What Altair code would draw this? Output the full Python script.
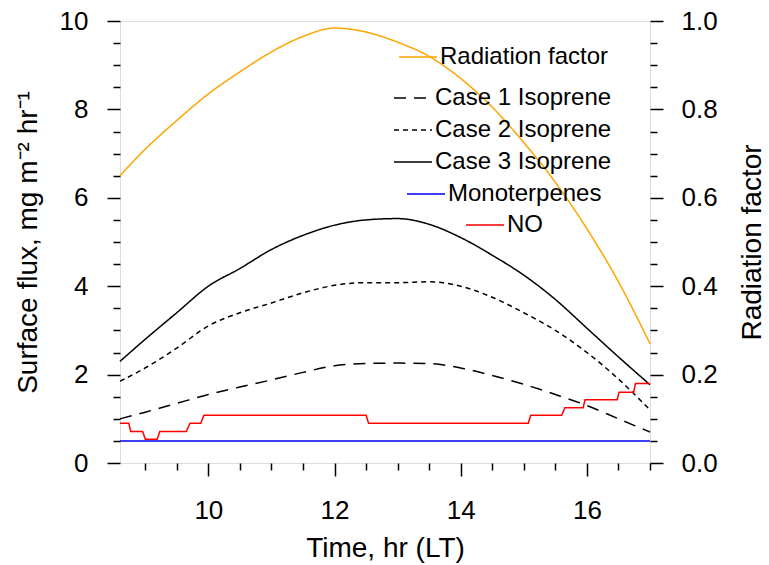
import altair as alt
import pandas as pd

# ---------------- data ----------------
hours = [8.6, 9.0, 9.5, 10.0, 10.5, 11.0, 11.5, 12.0, 12.5, 13.0, 13.5,
         14.0, 14.5, 15.0, 15.5, 16.0, 16.5, 17.0]
radiation = [0.65, 0.71, 0.775, 0.835, 0.885, 0.93, 0.965, 0.984, 0.975, 0.952,
             0.92, 0.87, 0.805, 0.725, 0.635, 0.53, 0.41, 0.27]
case1 = [1.0, 1.15, 1.35, 1.55, 1.72, 1.88, 2.05, 2.2, 2.25, 2.26, 2.25,
         2.15, 1.98, 1.78, 1.55, 1.3, 1.0, 0.7]
case2 = [1.85, 2.15, 2.6, 3.1, 3.4, 3.62, 3.85, 4.02, 4.08, 4.08, 4.1,
         4.0, 3.75, 3.4, 3.0, 2.5, 1.9, 1.2]
case3 = [2.3, 2.8, 3.4, 4.0, 4.4, 4.83, 5.15, 5.38, 5.5, 5.53, 5.4,
         5.1, 4.7, 4.25, 3.7, 3.05, 2.4, 1.77]
mono_hours = [8.6, 17.0]
mono = [0.5, 0.5]
no_hours = [8.6, 8.74, 8.77, 8.96, 9.0, 9.19, 9.23, 9.65, 9.71, 9.88, 9.93,
            12.5, 12.54, 15.07, 15.11, 15.6, 15.65, 15.94, 15.97, 16.48,
            16.51, 16.74, 16.77, 17.0]
no_vals = [0.9, 0.9, 0.71, 0.71, 0.54, 0.54, 0.71, 0.71, 0.9, 0.9, 1.08,
           1.08, 0.9, 0.9, 1.08, 1.08, 1.25, 1.25, 1.43, 1.43, 1.6, 1.6,
           1.8, 1.8]

case_names = ["Case 1 Isoprene", "Case 2 Isoprene", "Case 3 Isoprene"]
case_dashes = [[12, 8], [5, 4], [1, 0]]

x_major = [10, 12, 14, 16]
x_minor = [9.0, 9.5, 10.5, 11.0, 11.5, 12.5, 13.0, 13.5, 14.5, 15.0, 15.5,
           16.5, 17.0]
yl_major = [0, 2, 4, 6, 8, 10]
yl_minor = [0.5, 1, 1.5, 2.5, 3, 3.5, 4.5, 5, 5.5, 6.5, 7, 7.5, 8.5, 9, 9.5]
yr_major = [0.0, 0.2, 0.4, 0.6, 0.8, 1.0]
yr_minor = [0.05, 0.1, 0.15, 0.25, 0.3, 0.35, 0.45, 0.5, 0.55, 0.65, 0.7,
            0.75, 0.85, 0.9, 0.95]

# ---------------- tables ----------------
rows = []
for name, vals in zip(case_names, [case1, case2, case3]):
    for h, v in zip(hours, vals):
        rows.append({"hour": h, "value": v, "series": name})
case_df = pd.DataFrame(rows)
mono_df = pd.DataFrame({"hour": mono_hours, "value": mono,
                        "series": "Monoterpenes"})
no_df = pd.DataFrame({"hour": no_hours, "value": no_vals, "series": "NO"})
rad_df = pd.DataFrame({"hour": hours, "value": radiation,
                       "series": "Radiation factor"})

FONT = "Liberation Sans"
xscale = alt.Scale(domain=[8.6, 17], nice=False, zero=False)
lscale = alt.Scale(domain=[0, 10], nice=False)
rscale = alt.Scale(domain=[0, 1], nice=False)


def legend(lx, ly, rowpad=0):
    return alt.Legend(
        title=None, orient="none", legendX=lx, legendY=ly,
        symbolType="stroke", symbolSize=1444, symbolStrokeWidth=1.5,
        labelFontSize=24, labelFont=FONT, labelColor="black",
        labelOffset=2, rowPadding=rowpad, padding=0, labelLimit=400,
    )


def enc(domain, colors, dashes, lg):
    return dict(
        color=alt.Color("series:N", scale=alt.Scale(domain=domain, range=colors),
                        sort=domain, legend=lg),
        strokeDash=alt.StrokeDash("series:N",
                                  scale=alt.Scale(domain=domain, range=dashes),
                                  sort=domain, legend=lg),
    )


tick_common = dict(grid=False, domain=False, tickColor="black",
                   tickWidth=1.5, labelColor="black", titleColor="black",
                   labelFont=FONT, titleFont=FONT, titleFontWeight="normal")

cases = alt.Chart(case_df).mark_line(interpolate="monotone", strokeWidth=1.5).encode(
    x=alt.X("hour:Q", scale=xscale, axis=alt.Axis(
        orient="bottom", values=x_major, tickSize=13, labelFontSize=26,
        labelPadding=21, title="Time, hr (LT)", titleFontSize=28,
        titlePadding=11, **tick_common)),
    y=alt.Y("value:Q", scale=lscale, axis=alt.Axis(
        orient="left", values=yl_major, format="d", tickSize=13,
        labelFontSize=26, labelPadding=19,
        title="Surface flux, mg m\u207b\u00b2 hr\u207b\u00b9",
        titleFontSize=28, titlePadding=17, **tick_common)),
    detail="series:N",
    **enc(case_names, ["#000000"] * 3, case_dashes, legend(273, 57, -2)),
)

mono_line = alt.Chart(mono_df).mark_line(strokeWidth=1.5).encode(
    x=alt.X("hour:Q", scale=xscale, axis=None),
    y=alt.Y("value:Q", scale=lscale, axis=None),
    **enc(["Monoterpenes"], ["#0000FF"], [[1, 0]], legend(286, 153)),
)

no_line = alt.Chart(no_df).mark_line(strokeWidth=1.5).encode(
    x=alt.X("hour:Q", scale=xscale, axis=None),
    y=alt.Y("value:Q", scale=lscale, axis=None),
    **enc(["NO"], ["#FF0000"], [[1, 0]], legend(345, 184)),
)

rad = alt.Chart(rad_df).mark_line(interpolate="monotone", strokeWidth=1.5).encode(
    x=alt.X("hour:Q", scale=xscale, axis=None),
    y=alt.Y("value:Q", scale=rscale, axis=alt.Axis(
        orient="right", values=yr_major, format=".1f", tickSize=13,
        labelFontSize=26, labelPadding=18, title="Radiation factor",
        titleFontSize=28, titleAngle=270, titleBaseline="top",
        titlePadding=21, **tick_common)),
    **enc(["Radiation factor"], ["#FFA500"], [[1, 0]], legend(278, 16)),
)

minor_left = alt.Chart(no_df).mark_line(strokeOpacity=0).encode(
    x=alt.X("hour:Q", scale=xscale, axis=alt.Axis(
        orient="bottom", values=x_minor, tickSize=7, labels=False,
        title=None, **tick_common)),
    y=alt.Y("value:Q", scale=lscale, axis=alt.Axis(
        orient="left", values=yl_minor, tickSize=7, labels=False,
        title=None, **tick_common)),
)

minor_right = alt.Chart(rad_df).mark_line(strokeOpacity=0).encode(
    x=alt.X("hour:Q", scale=xscale, axis=None),
    y=alt.Y("value:Q", scale=rscale, axis=alt.Axis(
        orient="right", values=yr_minor, tickSize=7, labels=False,
        title=None, **tick_common)),
)

chart = alt.layer(cases, mono_line, no_line, rad, minor_left, minor_right).resolve_scale(
    y="independent", color="independent", strokeDash="independent"
).resolve_axis(
    x="independent", y="independent"
).properties(
    width=530, height=442,
    autosize=alt.AutoSizeParams(type="none"),
    padding={"left": 120, "top": 21, "right": 119, "bottom": 102},
).configure_view(
    stroke="black", strokeWidth=1.5
).configure(
    background="white"
)

chart.save("out.html", embed_options={"renderer": "svg", "actions": False})
